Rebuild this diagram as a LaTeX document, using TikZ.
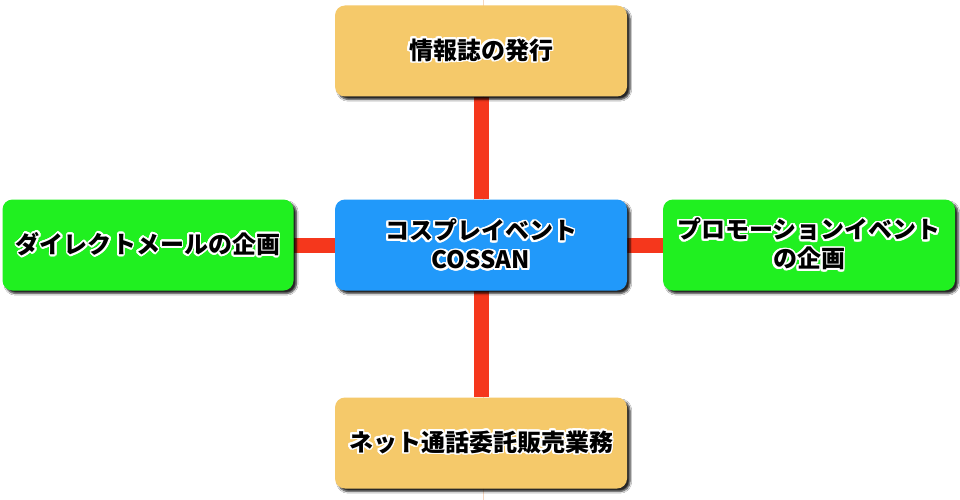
\documentclass[tikz,border=0pt]{standalone}
\usepackage{fontspec}
\newfontfamily\cjk{Noto Sans CJK JP Black}
\usepackage[copies]{contour}
\contourlength{1.8pt}
\contournumber{24}
\usetikzlibrary{backgrounds,shadows.blur}
\definecolor{gold}{RGB}{245,201,106}
\definecolor{bluebox}{RGB}{33,153,250}
\definecolor{greenbox}{RGB}{32,240,32}
\definecolor{redline}{RGB}{245,55,28}
\definecolor{guide}{RGB}{246,214,190}
\tikzset{
  box/.style={rounded corners=10pt, minimum width=292pt, minimum height=91pt,
    inner sep=0pt, align=center, text=black,
    font=\cjk\fontsize{24}{29}\selectfont,
    blur shadow={shadow xshift=3pt, shadow yshift=-3pt, shadow blur steps=6, shadow opacity=85}},
  conn/.style={draw=redline, line width=15pt},
}
\newcommand{\wt}[1]{\contour{white}{#1}}
\begin{document}
\begin{tikzpicture}[x=1pt,y=-1pt]
\useasboundingbox (0,0) rectangle (960,500);
\node[box, fill=gold] (t) at (481,51) {\wt{情報誌の発行}};
\node[box, fill=bluebox] (c) at (481,245) {\wt{コスプレイベント}\\\wt{COSSAN}};
\node[box, fill=greenbox, minimum width=291pt] (l) at (148,245) {\wt{ダイレクトメールの企画}};
\node[box, fill=greenbox] (r) at (809,245) {\wt{プロモーションイベント}\\\wt{の企画}};
\node[box, fill=gold] (b) at (481,443) {\wt{ネット通話委託販売業務}};
\coordinate (g1) at (483,0);
\coordinate (g2) at (483,500);
\begin{scope}[on background layer]
  \fill[white] (0,0) rectangle (960,500);
  \draw[guide, line width=0.8pt] (g1) -- (g2);
  \draw[conn] (c) -- (t);
  \draw[conn] (c) -- (b);
  \draw[conn] (c) -- (l);
  \draw[conn] (c) -- (r);
\end{scope}
\end{tikzpicture}
\end{document}
